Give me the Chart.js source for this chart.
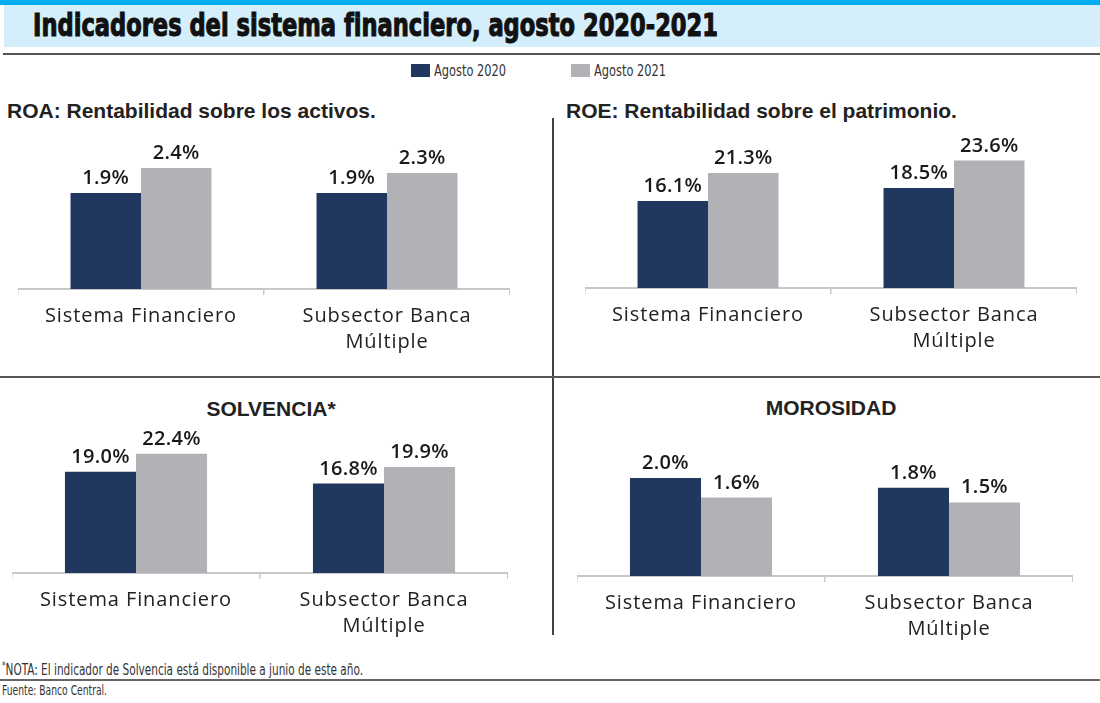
<!DOCTYPE html>
<html lang="es">
<head>
<meta charset="utf-8">
<title>Indicadores del sistema financiero, agosto 2020-2021</title>
<script src="https://cdn.jsdelivr.net/npm/chart.js@4.4.0/dist/chart.umd.min.js"></script>
<style>
  html, body { margin: 0; padding: 0; background: #fff; }
  #lienzo { position: relative; width: 1100px; height: 703px; overflow: hidden; font-family: "Liberation Sans", Arial, sans-serif; }
  .abs { position: absolute; }
  .fit { white-space: nowrap; transform-origin: 0 50%; display: inline-block; }
  .narrow { font-family: "Liberation Sans Narrow", "DejaVu Sans Condensed", "Liberation Sans", sans-serif; }
  .titulo-panel { font-family: "Liberation Sans", Arial, sans-serif; font-weight: bold; font-size: 21px; color: #222; white-space: nowrap; line-height: 1; }
  canvas { position: absolute; }
</style>
</head>
<body>
<div id="lienzo">
  <!-- cabecera -->
  <div class="abs" style="left:0;top:0;width:1100px;height:5px;background:#00aeef;"></div>
  <div class="abs" style="left:4px;top:5px;width:1096px;height:42px;background:#d5eefb;"></div>
  <div class="abs" style="left:33px;top:7px;height:36px;line-height:36px;">
    <span id="titulo" class="fit narrow" data-w="685" style="font-weight:bold;font-size:32px;color:#111;-webkit-text-stroke:1.1px #111;">Indicadores del sistema financiero, agosto 2020-2021</span>
  </div>
  <div class="abs" style="left:3px;top:53px;width:1097px;height:2px;background:#555;"></div>

  <!-- leyenda -->
  <div id="leyenda"></div>

  <!-- titulos de los paneles -->
  <div class="abs titulo-panel" style="left:7px;top:100px;">ROA: Rentabilidad sobre los activos.</div>
  <div class="abs titulo-panel" style="left:566px;top:100px;">ROE: Rentabilidad sobre el patrimonio.</div>
  <div class="abs titulo-panel" style="left:271px;top:398px;transform:translateX(-50%);">SOLVENCIA*</div>
  <div class="abs titulo-panel" style="left:831px;top:397px;transform:translateX(-50%);">MOROSIDAD</div>

  <!-- divisores -->
  <div class="abs" style="left:552px;top:118px;width:2px;height:517px;background:#444;"></div>
  <div class="abs" style="left:0;top:376px;width:1100px;height:2px;background:#555;"></div>

  <canvas id="gRoa" width="492" height="233" style="left:18px;top:126px;"></canvas>
  <canvas id="gRoe" width="492" height="232" style="left:585px;top:126px;"></canvas>
  <canvas id="gSolv" width="496" height="218" style="left:12px;top:425px;"></canvas>
  <canvas id="gMoro" width="496" height="221" style="left:577px;top:425px;"></canvas>

  <!-- notas -->
  <div class="abs" style="left:2px;top:656px;height:20px;line-height:20px;">
    <span class="fit narrow" data-w="361" style="font-size:16px;color:#333;"><sup style="font-size:11px;">*</sup>NOTA: El indicador de Solvencia está disponible a junio de este año.</span>
  </div>
  <div class="abs" style="left:0;top:679px;width:1100px;height:2px;background:#666;"></div>
  <div class="abs" style="left:2px;top:682px;height:16px;line-height:16px;">
    <span class="fit narrow" data-w="105" style="font-size:14px;color:#333;">Fuente: Banco Central.</span>
  </div>
</div>

<script>
// datos
const categorias = [['Sistema Financiero'], ['Subsector Banca', 'Múltiple']];
const series = ['Agosto 2020', 'Agosto 2021'];
const colores = ['#20375f', '#b1b2b6'];

const roa2020 = [1.9, 1.9];
const roa2021 = [2.4, 2.3];
const roe2020 = [16.1, 18.5];
const roe2021 = [21.3, 23.6];
const solv2020 = [19.0, 16.8];
const solv2021 = [22.4, 19.9];
const moro2020 = [2.0, 1.8];
const moro2021 = [1.6, 1.5];

// tope del eje y de cada panel (ROA, ROE, Solvencia, Morosidad)
const ejeMax = [3.23, 30, 27.8, 3.08];

const ALTO_EJE = 70;

// leyenda comun
const leyenda = document.getElementById('leyenda');
const posLeyenda = [411, 571];
series.forEach((nombre, i) => {
    const caja = document.createElement('div');
    caja.className = 'abs';
    caja.style.cssText = `left:${posLeyenda[i]}px;top:64px;width:19px;height:13px;background:${colores[i]};`;
    leyenda.appendChild(caja);
    const txt = document.createElement('div');
    txt.className = 'abs';
    txt.style.cssText = `left:${posLeyenda[i] + 23}px;top:61px;height:20px;line-height:20px;`;
    txt.innerHTML = `<span class="fit narrow" data-w="72" style="font-size:15px;color:#333;">${nombre}</span>`;
    leyenda.appendChild(txt);
});

// ajusta el ancho de los textos condensados
document.querySelectorAll('.fit').forEach(el => {
    const w = el.getBoundingClientRect().width;
    const objetivo = parseFloat(el.dataset.w);
    if (w > 0) el.style.transform = `scaleX(${objetivo / w})`;
});

const etiquetasValor = {
    id: 'etiquetasValor',
    beforeDraw(chart) {
        chart.ctx.letterSpacing = '0.9px';
    },
    afterDatasetsDraw(chart) {
        const ctx = chart.ctx;
        ctx.save();
        ctx.letterSpacing = '0.3px';
        ctx.font = '600 20px "Open Sans"';
        ctx.fillStyle = '#1a1a1a';
        ctx.textAlign = 'center';
        ctx.textBaseline = 'alphabetic';
        chart.data.datasets.forEach((ds, i) => {
            chart.getDatasetMeta(i).data.forEach((bar, j) => {
                ctx.fillText(ds.data[j].toFixed(1) + '%', bar.x, bar.y - 9);
            });
        });
        ctx.restore();
    }
};

function crearGrafico(id, datosA, datosB, yMax) {
    return new Chart(document.getElementById(id), {
        type: 'bar',
        data: {
            labels: categorias,
            datasets: [datosA, datosB].map((d, i) => ({
                label: series[i],
                data: d,
                backgroundColor: colores[i],
                borderWidth: 0,
                categoryPercentage: 0.573,
                barPercentage: 1
            }))
        },
        options: {
            responsive: false,
            animation: false,
            devicePixelRatio: 1,
            layout: { padding: 0 },
            plugins: {
                legend: { display: false },
                tooltip: { enabled: false }
            },
            scales: {
                y: { display: false, min: 0, max: yMax },
                x: {
                    grid: {
                        display: true,
                        drawOnChartArea: false,
                        drawTicks: true,
                        tickLength: 6,
                        offset: true,
                        color: '#c8c8c8',
                        lineWidth: 1.5
                    },
                    border: { display: true, color: '#c8c8c8', width: 2 },
                    ticks: {
                        color: '#222',
                        padding: 8,
                        maxRotation: 0,
                        autoSkip: false,
                        font: { family: '"Open Sans"', size: 20, lineHeight: 1.3 }
                    },
                    afterFit(scale) { scale.height = ALTO_EJE; }
                }
            }
        },
        plugins: [etiquetasValor]
    });
}

crearGrafico('gRoa', roa2020, roa2021, ejeMax[0]);
crearGrafico('gRoe', roe2020, roe2021, ejeMax[1]);
crearGrafico('gSolv', solv2020, solv2021, ejeMax[2]);
crearGrafico('gMoro', moro2020, moro2021, ejeMax[3]);
</script>
</body>
</html>
